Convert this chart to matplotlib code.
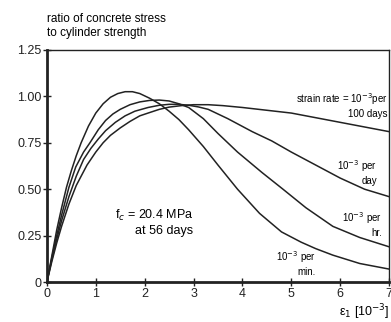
import matplotlib
matplotlib.use("Agg")
import matplotlib.pyplot as plt

plt.rcParams['font.family'] = ['Liberation Sans', 'DejaVu Sans']

# strain (10^-3) and stress ratio for each strain rate
x_min = [0, 0.1, 0.2, 0.3, 0.4, 0.5, 0.6, 0.7, 0.85, 1.0, 1.15, 1.3, 1.45, 1.6, 1.75, 1.9, 2.1, 2.3, 2.5,
         2.7, 2.9, 3.2, 3.5, 3.9, 4.35, 4.8, 5.2, 5.5, 5.85, 6.4, 7.0]
y_min = [0, 0.14, 0.28, 0.40, 0.51, 0.60, 0.68, 0.75, 0.84, 0.91, 0.96, 0.995, 1.015, 1.025, 1.025, 1.015,
         0.99, 0.96, 0.92, 0.875, 0.82, 0.73, 0.63, 0.50, 0.37, 0.27, 0.215, 0.18, 0.145, 0.10, 0.07]

x_hr = [0, 0.1, 0.2, 0.3, 0.45, 0.59, 0.75, 0.88, 1.05, 1.2, 1.35, 1.5, 1.7, 1.9, 2.1, 2.3, 2.5, 2.7, 2.9,
        3.2, 3.5, 3.9, 4.4, 4.83, 5.3, 5.85, 6.4, 7.0]
y_hr = [0, 0.13, 0.25, 0.36, 0.51, 0.62, 0.70, 0.75, 0.82, 0.87, 0.905, 0.93, 0.955, 0.97, 0.978, 0.98,
        0.975, 0.96, 0.94, 0.88, 0.80, 0.70, 0.59, 0.50, 0.40, 0.30, 0.24, 0.19]

x_day = [0, 0.1, 0.2, 0.3, 0.45, 0.6, 0.75, 0.9, 1.05, 1.2, 1.4, 1.6, 1.8, 2.07, 2.3, 2.5, 2.7, 2.9, 3.1,
         3.3, 3.7, 4.2, 4.6, 5.0, 5.5, 6.0, 6.5, 7.0]
y_day = [0, 0.12, 0.23, 0.33, 0.46, 0.57, 0.66, 0.72, 0.77, 0.815, 0.86, 0.895, 0.92, 0.94, 0.952, 0.957,
         0.957, 0.952, 0.943, 0.93, 0.88, 0.81, 0.76, 0.70, 0.63, 0.56, 0.50, 0.46]

x_100d = [0, 0.1, 0.2, 0.3, 0.45, 0.6, 0.82, 1.0, 1.15, 1.3, 1.5, 1.7, 1.9, 2.07, 2.3, 2.5, 2.75, 3.0,
          3.3, 3.6, 4.0, 4.5, 5.0, 5.5, 6.0, 6.5, 7.0]
y_100d = [0, 0.11, 0.21, 0.30, 0.42, 0.52, 0.63, 0.70, 0.75, 0.79, 0.83, 0.865, 0.895, 0.91, 0.93, 0.942,
          0.95, 0.955, 0.955, 0.95, 0.94, 0.925, 0.91, 0.885, 0.86, 0.835, 0.81]

x_ticks = [0, 1, 2, 3, 4, 5, 6, 7]
y_ticks = [0, 0.25, 0.5, 0.75, 1.0, 1.25]
y_tick_labels = ["0", "0.25", "0.50", "0.75", "1.00", "1.25"]

fig = plt.figure(figsize=(3.91, 3.22), dpi=100)
ax = fig.add_axes([0.120, 0.124, 0.875, 0.721])

for xs, ys in [(x_min, y_min), (x_hr, y_hr), (x_day, y_day), (x_100d, y_100d)]:
    ax.plot(xs, ys, color="#222222", lw=1.1)

ax.set_xlim(0, 7)
ax.set_ylim(0, 1.25)
ax.set_xticks(x_ticks)
ax.set_yticks(y_ticks)
ax.set_yticklabels(y_tick_labels)
ax.tick_params(direction="inout", length=6, width=1, labelsize=9, pad=1, colors="#222222")

ax.spines["left"].set_linewidth(2.0)
ax.spines["bottom"].set_linewidth(2.0)
ax.spines["top"].set_linewidth(1.0)
ax.spines["right"].set_linewidth(1.0)
for s in ax.spines.values():
    s.set_color("#222222")

ax.text(0.0, 1.31, "ratio of concrete stress\nto cylinder strength", fontsize=8.5,
        ha="left", va="bottom", linespacing=1.15, clip_on=False)
ax.text(6.97, 0.955, "strain rate = 10$^{-3}$per\n100 days", fontsize=7,
        ha="right", va="center", linespacing=1.25)
ax.text(6.75, 0.59, "10$^{-3}$ per\nday", fontsize=7, ha="right", va="center", linespacing=1.25)
ax.text(6.85, 0.31, "10$^{-3}$ per\nhr.", fontsize=7, ha="right", va="center", linespacing=1.25)
ax.text(5.5, 0.10, "10$^{-3}$ per\nmin.", fontsize=7, ha="right", va="center", linespacing=1.25)
ax.text(3.0, 0.32, "f$_c$ = 20.4 MPa\nat 56 days", fontsize=9, ha="right", va="center",
        linespacing=1.2)
ax.text(7.0, -0.16, "ε$_1$ [10$^{-3}$]", fontsize=9, ha="right", va="center", clip_on=False)

fig.savefig("out.png", dpi=100)
